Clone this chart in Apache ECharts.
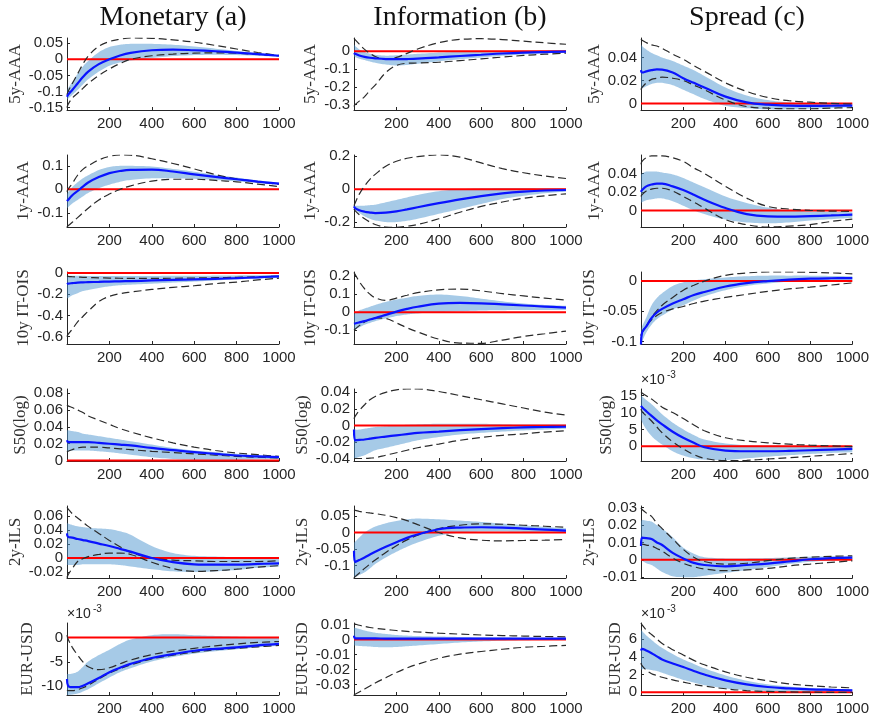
<!DOCTYPE html>
<html><head><meta charset="utf-8">
<script src="https://cdn.jsdelivr.net/npm/echarts@6/dist/echarts.min.js"></script>
<style>html,body{margin:0;padding:0;background:#fff}#c{width:872px;height:724px}</style>
</head><body><div id="c"></div>
<script>
// ---- horizon grid (x values) ----
const horizon = [0,5,25,50,75,100,150,200,250,300,400,500,600,700,800,900,1000];
const xTickValues = [200,400,600,800,1000];
const columnTitles = ['Monetary (a)','Information (b)','Spread (c)'];
const variableNames = ['5y-AAA','1y-AAA','10y IT-OIS','S50(log)','2y-ILS','EUR-USD'];

// ---- Monetary (a) ----
const m1_mean=[-0.116,-0.11,-0.095,-0.075,-0.055,-0.038,-0.015,0.0,0.012,0.02,0.028,0.03,0.028,0.025,0.021,0.016,0.011];
const m1_lo=[-0.125,-0.122,-0.11,-0.095,-0.078,-0.062,-0.038,-0.02,-0.01,-0.004,0.004,0.01,0.013,0.014,0.013,0.011,0.008];
const m1_hi=[-0.1,-0.09,-0.07,-0.045,-0.022,-0.005,0.022,0.038,0.045,0.048,0.048,0.045,0.04,0.033,0.026,0.019,0.013];
const m1_d1=[-0.11,-0.1,-0.075,-0.045,-0.015,0.01,0.04,0.055,0.062,0.066,0.065,0.06,0.053,0.043,0.032,0.021,0.012];
const m1_d2=[-0.15,-0.14,-0.12,-0.105,-0.09,-0.075,-0.05,-0.03,-0.013,0.0,0.011,0.016,0.019,0.02,0.019,0.015,0.011];

const m2_mean=[-0.05,-0.045,-0.025,-0.007,0.012,0.029,0.052,0.069,0.078,0.083,0.084,0.076,0.064,0.053,0.043,0.033,0.024];
const m2_lo=[-0.08,-0.076,-0.06,-0.045,-0.03,-0.015,0.005,0.02,0.032,0.04,0.047,0.047,0.045,0.04,0.034,0.027,0.02];
const m2_hi=[-0.02,-0.012,0.01,0.03,0.047,0.06,0.082,0.095,0.1,0.1,0.097,0.087,0.075,0.062,0.05,0.038,0.028];
const m2_d1=[-0.01,0.0,0.025,0.06,0.085,0.1,0.125,0.14,0.146,0.145,0.13,0.11,0.087,0.063,0.045,0.032,0.022];
const m2_d2=[-0.16,-0.155,-0.14,-0.12,-0.1,-0.08,-0.045,-0.02,0.0,0.015,0.035,0.043,0.043,0.038,0.032,0.022,0.012];

const m3_mean=[-0.105,-0.1,-0.095,-0.09,-0.088,-0.086,-0.083,-0.08,-0.078,-0.076,-0.07,-0.065,-0.06,-0.054,-0.048,-0.04,-0.032];
const m3_lo=[-0.24,-0.235,-0.21,-0.19,-0.17,-0.16,-0.14,-0.125,-0.115,-0.11,-0.1,-0.09,-0.08,-0.07,-0.06,-0.052,-0.045];
const m3_hi=[-0.025,-0.025,-0.025,-0.025,-0.026,-0.027,-0.028,-0.028,-0.028,-0.028,-0.027,-0.026,-0.025,-0.024,-0.022,-0.02,-0.018];
const m3_d1=[-0.03,-0.032,-0.035,-0.038,-0.04,-0.042,-0.045,-0.047,-0.049,-0.05,-0.05,-0.049,-0.047,-0.044,-0.04,-0.035,-0.03];
const m3_d2=[-0.6,-0.58,-0.53,-0.46,-0.41,-0.36,-0.27,-0.22,-0.195,-0.18,-0.155,-0.135,-0.12,-0.1,-0.085,-0.065,-0.048];

const m4_mean=[0.024,0.022,0.022,0.022,0.022,0.022,0.021,0.02,0.019,0.018,0.015,0.0125,0.01,0.008,0.006,0.005,0.004];
const m4_lo=[0.011,0.011,0.012,0.012,0.012,0.012,0.011,0.01,0.0085,0.007,0.004,0.002,0.001,0.001,0.001,0.0015,0.002];
const m4_hi=[0.036,0.036,0.035,0.034,0.032,0.031,0.029,0.027,0.025,0.023,0.019,0.015,0.012,0.01,0.008,0.0065,0.005];
const m4_d1=[0.066,0.065,0.063,0.06,0.057,0.053,0.048,0.043,0.038,0.034,0.027,0.021,0.016,0.012,0.009,0.007,0.005];
const m4_d2=[0.01,0.011,0.013,0.015,0.016,0.016,0.016,0.015,0.014,0.013,0.011,0.0095,0.008,0.0065,0.005,0.004,0.003];

const m5_mean=[0.035,0.03,0.029,0.027,0.0255,0.024,0.0205,0.017,0.013,0.009,0.0,-0.006,-0.009,-0.0095,-0.0095,-0.0085,-0.0076];
const m5_lo=[-0.01,-0.01,-0.01,-0.01,-0.009,-0.009,-0.009,-0.009,-0.01,-0.012,-0.016,-0.019,-0.02,-0.019,-0.017,-0.014,-0.012];
const m5_hi=[0.05,0.049,0.047,0.045,0.044,0.043,0.042,0.041,0.038,0.033,0.017,0.007,0.003,0.002,0.001,0.0005,0.0];
const m5_d1=[0.072,0.07,0.063,0.057,0.051,0.045,0.035,0.025,0.016,0.008,0.0,-0.003,-0.004,-0.005,-0.005,-0.005,-0.004];
const m5_d2=[-0.028,-0.024,-0.015,-0.005,-0.001,0.002,0.005,0.007,0.007,0.005,-0.006,-0.015,-0.019,-0.018,-0.016,-0.013,-0.011];

const m6_mean=[-8.5,-9.9,-10.2,-10.2,-9.9,-9.4,-8.3,-7.1,-6.2,-5.4,-4.2,-3.4,-2.7,-2.3,-2.0,-1.6,-1.3];
const m6_lo=[-11.8,-11.8,-11.7,-11.5,-11.1,-10.6,-9.4,-8.2,-7.1,-6.3,-4.9,-4.0,-3.3,-2.8,-2.4,-2.0,-1.7];
const m6_hi=[-7.5,-7.5,-7.4,-7.0,-6.0,-4.9,-3.6,-2.5,-1.3,-0.4,0.5,0.7,0.5,0.35,0.2,0.1,0.0];
const m6_d1=[0.5,-0.3,-2.0,-3.6,-5.0,-6.0,-6.6,-6.2,-5.4,-4.6,-3.5,-2.8,-2.2,-1.7,-1.3,-1.0,-0.8];
const m6_d2=[-10.8,-10.9,-10.9,-10.7,-10.3,-9.8,-8.5,-7.3,-6.4,-5.6,-4.4,-3.6,-3.0,-2.5,-2.2,-1.9,-1.6];

// ---- Information (b) ----
const i1_mean=[-0.01,-0.015,-0.024,-0.032,-0.037,-0.04,-0.044,-0.045,-0.044,-0.042,-0.035,-0.027,-0.02,-0.013,-0.008,-0.005,-0.003];
const i1_lo=[-0.03,-0.033,-0.042,-0.05,-0.058,-0.065,-0.075,-0.08,-0.077,-0.07,-0.057,-0.045,-0.035,-0.026,-0.018,-0.012,-0.008];
const i1_hi=[0.04,0.03,0.01,-0.005,-0.014,-0.02,-0.025,-0.023,-0.019,-0.015,-0.008,-0.004,-0.002,0.0,0.001,0.002,0.002];
const i1_d1=[0.072,0.065,0.04,0.01,-0.012,-0.03,-0.045,-0.035,-0.012,0.012,0.048,0.066,0.07,0.065,0.056,0.047,0.039];
const i1_d2=[-0.31,-0.3,-0.28,-0.255,-0.22,-0.19,-0.12,-0.08,-0.068,-0.066,-0.062,-0.053,-0.043,-0.033,-0.024,-0.017,-0.011];

const i2_mean=[-0.105,-0.115,-0.128,-0.137,-0.142,-0.145,-0.143,-0.135,-0.123,-0.11,-0.085,-0.062,-0.042,-0.026,-0.015,-0.008,-0.005];
const i2_lo=[-0.115,-0.125,-0.145,-0.165,-0.18,-0.19,-0.2,-0.2,-0.192,-0.18,-0.15,-0.12,-0.09,-0.06,-0.04,-0.025,-0.015];
const i2_hi=[-0.1,-0.1,-0.1,-0.1,-0.097,-0.094,-0.08,-0.065,-0.05,-0.035,-0.012,0.0,0.005,0.007,0.007,0.006,0.005];
const i2_d1=[-0.1,-0.085,-0.03,0.02,0.06,0.09,0.14,0.17,0.188,0.198,0.208,0.195,0.16,0.125,0.1,0.08,0.065];
const i2_d2=[-0.12,-0.13,-0.155,-0.18,-0.2,-0.215,-0.23,-0.232,-0.225,-0.215,-0.18,-0.14,-0.105,-0.078,-0.055,-0.04,-0.028];

const i3_mean=[-0.065,-0.063,-0.057,-0.05,-0.041,-0.033,-0.015,0.003,0.018,0.03,0.047,0.051,0.049,0.043,0.037,0.031,0.025];
const i3_lo=[-0.1,-0.097,-0.085,-0.07,-0.06,-0.05,-0.035,-0.022,-0.013,-0.007,0.0,0.005,0.009,0.011,0.012,0.012,0.012];
const i3_hi=[-0.01,-0.003,0.01,0.02,0.03,0.04,0.057,0.07,0.08,0.09,0.098,0.09,0.075,0.06,0.048,0.04,0.035];
const i3_d1=[0.22,0.21,0.17,0.13,0.1,0.08,0.065,0.078,0.094,0.108,0.124,0.128,0.118,0.103,0.09,0.078,0.067];
const i3_d2=[-0.1,-0.095,-0.075,-0.055,-0.04,-0.032,-0.035,-0.06,-0.087,-0.11,-0.15,-0.172,-0.173,-0.155,-0.135,-0.12,-0.105];

const i4_mean=[-0.005,-0.018,-0.0175,-0.017,-0.016,-0.015,-0.0135,-0.012,-0.0105,-0.009,-0.0075,-0.0058,-0.0045,-0.0033,-0.0024,-0.0019,-0.0016];
const i4_lo=[-0.04,-0.04,-0.038,-0.036,-0.033,-0.03,-0.027,-0.024,-0.021,-0.018,-0.014,-0.011,-0.009,-0.0075,-0.006,-0.005,-0.004];
const i4_hi=[-0.004,-0.005,-0.005,-0.004,-0.003,-0.002,-0.001,0.0,0.0008,0.0013,0.002,0.002,0.002,0.0015,0.001,0.001,0.001];
const i4_d1=[0.008,0.011,0.018,0.025,0.031,0.035,0.04,0.043,0.044,0.044,0.041,0.036,0.031,0.026,0.021,0.016,0.0125];
const i4_d2=[-0.04,-0.04,-0.04,-0.04,-0.0395,-0.039,-0.036,-0.033,-0.03,-0.027,-0.0225,-0.018,-0.0145,-0.012,-0.0102,-0.008,-0.0065];

const i5_mean=[-0.055,-0.089,-0.083,-0.075,-0.066,-0.058,-0.043,-0.029,-0.016,-0.006,0.01,0.015,0.016,0.015,0.012,0.009,0.006];
const i5_lo=[-0.137,-0.135,-0.128,-0.12,-0.108,-0.095,-0.075,-0.058,-0.043,-0.03,-0.01,0.0,0.003,0.003,0.002,0.001,0.0];
const i5_hi=[-0.03,-0.028,-0.015,0.0,0.01,0.018,0.028,0.035,0.04,0.042,0.04,0.036,0.032,0.027,0.022,0.017,0.013];
const i5_d1=[0.068,0.067,0.064,0.061,0.059,0.057,0.052,0.045,0.036,0.024,0.0,-0.016,-0.023,-0.025,-0.024,-0.023,-0.021];
const i5_d2=[-0.137,-0.133,-0.122,-0.108,-0.095,-0.083,-0.06,-0.04,-0.022,-0.008,0.012,0.022,0.026,0.025,0.022,0.019,0.016];

const i6_mean=[0.0025,0.0008,0.0007,0.0007,0.0007,0.0007,0.0006,0.0006,0.0006,0.0006,0.0006,0.0006,0.0006,0.0006,0.0006,0.0006,0.0006];
const i6_lo=[-0.004,-0.004,-0.0043,-0.0045,-0.0047,-0.005,-0.0052,-0.005,-0.0045,-0.004,-0.003,-0.002,-0.0013,-0.0008,-0.0005,-0.0002,0.0];
const i6_hi=[0.008,0.0078,0.007,0.006,0.0052,0.0045,0.0037,0.003,0.0026,0.0023,0.002,0.0017,0.0015,0.0013,0.0012,0.0011,0.001];
const i6_d1=[0.0105,0.0103,0.0095,0.0087,0.008,0.0075,0.0067,0.006,0.0054,0.005,0.0042,0.0036,0.003,0.0026,0.0023,0.002,0.0018];
const i6_d2=[-0.037,-0.0365,-0.035,-0.033,-0.031,-0.029,-0.0255,-0.022,-0.019,-0.0165,-0.0125,-0.0098,-0.008,-0.0065,-0.0052,-0.0045,-0.0039];

// ---- Spread (c) ----
const s1_mean=[0.029,0.027,0.028,0.029,0.0297,0.0295,0.027,0.022,0.018,0.014,0.006,0.001,-0.001,-0.0018,-0.002,-0.0019,-0.0018];
const s1_lo=[0.012,0.013,0.015,0.017,0.018,0.018,0.016,0.012,0.008,0.004,-0.002,-0.004,-0.005,-0.005,-0.0045,-0.004,-0.003];
const s1_hi=[0.052,0.05,0.047,0.044,0.042,0.04,0.037,0.033,0.029,0.024,0.014,0.007,0.003,0.001,0.0,-0.0005,-0.0008];
const s1_d1=[0.056,0.055,0.053,0.051,0.05,0.048,0.043,0.0385,0.033,0.028,0.018,0.0106,0.0053,0.0025,0.0012,0.0002,-0.0006];
const s1_d2=[0.012,0.014,0.018,0.021,0.022,0.023,0.022,0.02,0.016,0.012,0.003,-0.0026,-0.004,-0.0045,-0.0045,-0.004,-0.0035];

const s2_mean=[0.02,0.022,0.026,0.028,0.029,0.029,0.026,0.022,0.017,0.0115,0.0025,-0.004,-0.0065,-0.0068,-0.0062,-0.0055,-0.0047];
const s2_lo=[0.008,0.009,0.011,0.012,0.013,0.013,0.01,0.005,0.0,-0.004,-0.01,-0.013,-0.014,-0.013,-0.011,-0.0095,-0.008];
const s2_hi=[0.038,0.04,0.042,0.042,0.042,0.041,0.039,0.035,0.03,0.025,0.015,0.008,0.003,0.0,-0.001,-0.0015,-0.002];
const s2_d1=[0.05,0.053,0.057,0.059,0.059,0.059,0.057,0.053,0.046,0.04,0.026,0.0133,0.0043,0.0015,0.0,-0.0008,-0.001];
const s2_d2=[0.015,0.017,0.021,0.023,0.024,0.024,0.021,0.015,0.009,0.0025,-0.01,-0.0155,-0.018,-0.017,-0.0155,-0.012,-0.0094];

const s3_mean=[-0.105,-0.085,-0.075,-0.061,-0.052,-0.046,-0.037,-0.03,-0.023,-0.018,-0.009,-0.0034,0.0,0.0025,0.004,0.0047,0.005];
const s3_lo=[-0.104,-0.1,-0.085,-0.072,-0.063,-0.057,-0.047,-0.04,-0.032,-0.025,-0.015,-0.008,-0.004,-0.001,0.0,0.0008,0.001];
const s3_hi=[-0.085,-0.075,-0.06,-0.04,-0.028,-0.02,-0.008,-0.002,0.001,0.003,0.006,0.008,0.009,0.009,0.009,0.0085,0.008];
const s3_d1=[-0.09,-0.085,-0.075,-0.06,-0.049,-0.04,-0.027,-0.015,-0.007,0.0,0.0095,0.0134,0.015,0.015,0.0145,0.0135,0.012];
const s3_d2=[-0.09,-0.085,-0.074,-0.064,-0.057,-0.052,-0.046,-0.042,-0.037,-0.033,-0.027,-0.022,-0.017,-0.013,-0.01,-0.0065,-0.003];

const s4_mean=[12,11.6,10.4,9.0,7.7,6.5,4.3,2.5,1.0,-0.3,-1.3,-1.5,-1.5,-1.4,-1.2,-1.0,-0.8];
const s4_lo=[8,7.2,5,3,1.6,0.5,-1.5,-2.8,-3.6,-4.0,-4.1,-3.6,-3.1,-2.7,-2.3,-2.0,-1.8];
const s4_hi=[15,14.8,13.7,12.5,11,9.5,7,5,3.3,2.0,0.8,0.3,0.2,0.15,0.1,0.05,0.0];
const s4_d1=[16,15.8,15,14,12.8,11.6,10,8.2,6.3,4.6,2.5,1.6,1.0,0.6,0.3,0.1,-0.1];
const s4_d2=[11,10.3,9,7.5,5.7,4.0,1.3,-0.8,-2.5,-3.6,-4.3,-4.2,-3.8,-3.4,-3.0,-2.6,-2.2];

const s5_mean=[0.008,0.0128,0.0125,0.012,0.01,0.0085,0.004,0.0008,-0.0018,-0.003,-0.0038,-0.003,-0.0022,-0.001,0.0003,0.0009,0.0012];
const s5_lo=[0.0,-0.0005,-0.002,-0.003,-0.005,-0.007,-0.0095,-0.01,-0.01,-0.0092,-0.0075,-0.006,-0.0042,-0.0025,-0.0012,-0.0004,0.0];
const s5_hi=[0.022,0.023,0.0225,0.022,0.02,0.018,0.013,0.007,0.0035,0.0015,0.0008,0.0008,0.001,0.0014,0.0018,0.002,0.002];
const s5_d1=[0.03,0.029,0.027,0.025,0.021,0.018,0.012,0.006,0.0015,-0.001,-0.0025,-0.002,-0.0005,0.0008,0.0015,0.002,0.0023];
const s5_d2=[0.009,0.009,0.0085,0.008,0.0065,0.005,0.001,-0.002,-0.004,-0.0053,-0.0063,-0.0058,-0.005,-0.0035,-0.0025,-0.0015,-0.0006];

const s6_mean=[4.7,4.9,4.7,4.4,4.05,3.7,3.25,2.85,2.4,2.0,1.35,0.9,0.6,0.45,0.34,0.28,0.23];
const s6_lo=[2.5,2.6,2.6,2.5,2.4,2.2,1.8,1.4,1.1,0.8,0.45,0.25,0.15,0.1,0.08,0.07,0.06];
const s6_hi=[7,6.9,6.4,5.9,5.4,5.0,4.3,3.7,3.2,2.7,1.9,1.3,0.9,0.65,0.5,0.4,0.35];
const s6_d1=[7.8,7.6,7.0,6.5,6.0,5.5,4.8,4.2,3.6,3.1,2.3,1.7,1.3,0.95,0.75,0.6,0.5];
const s6_d2=[3.3,3.0,2.5,2.1,1.9,1.7,1.4,1.15,0.9,0.7,0.4,0.2,0.1,0.05,0.02,0.0,0.0];

// ---- axis ranges and tick labels (per column, rows top to bottom) ----
const monYMin=[-0.157,-0.16,-0.67,-0.0005,-0.0285,-11.8];
const monYMax=[0.066,0.146,0.01,0.085,0.074,3.0];
const monYTicks=[[-0.15,-0.1,-0.05,0,0.05],[-0.1,0,0.1],[-0.6,-0.4,-0.2,0],[0,0.02,0.04,0.06,0.08],[-0.02,0,0.02,0.04,0.06],[-10,-5,0]];
const infYMin=[-0.33,-0.23,-0.177,-0.043,-0.137,-0.037];
const infYMax=[0.074,0.208,0.223,0.044,0.08,0.011];
const infYTicks=[[-0.3,-0.2,-0.1,0],[-0.2,0,0.2],[-0.1,0,0.1,0.2],[-0.04,-0.02,0,0.02,0.04],[-0.1,-0.05,0,0.05],[-0.03,-0.02,-0.01,0,0.01]];
const sprYMin=[-0.0056,-0.018,-0.104,-4.4,-0.0105,-0.3];
const sprYMax=[0.057,0.06,0.015,17,0.031,7.8];
const sprYTicks=[[0,0.02,0.04],[0,0.02,0.04],[-0.1,-0.05,0],[0,5,10,15],[-0.01,0,0.01,0.02,0.03],[0,2,4,6]];
// panels whose values are shown in units of 10^-3: [row, col]
const exponentPanels=[[5,0],[3,2],[5,2]];

// ---- assemble ----
const colData=[
  [[m1_mean,m1_lo,m1_hi,m1_d1,m1_d2],[m2_mean,m2_lo,m2_hi,m2_d1,m2_d2],[m3_mean,m3_lo,m3_hi,m3_d1,m3_d2],[m4_mean,m4_lo,m4_hi,m4_d1,m4_d2],[m5_mean,m5_lo,m5_hi,m5_d1,m5_d2],[m6_mean,m6_lo,m6_hi,m6_d1,m6_d2]],
  [[i1_mean,i1_lo,i1_hi,i1_d1,i1_d2],[i2_mean,i2_lo,i2_hi,i2_d1,i2_d2],[i3_mean,i3_lo,i3_hi,i3_d1,i3_d2],[i4_mean,i4_lo,i4_hi,i4_d1,i4_d2],[i5_mean,i5_lo,i5_hi,i5_d1,i5_d2],[i6_mean,i6_lo,i6_hi,i6_d1,i6_d2]],
  [[s1_mean,s1_lo,s1_hi,s1_d1,s1_d2],[s2_mean,s2_lo,s2_hi,s2_d1,s2_d2],[s3_mean,s3_lo,s3_hi,s3_d1,s3_d2],[s4_mean,s4_lo,s4_hi,s4_d1,s4_d2],[s5_mean,s5_lo,s5_hi,s5_d1,s5_d2],[s6_mean,s6_lo,s6_hi,s6_d1,s6_d2]]
];
const colYMin=[monYMin,infYMin,sprYMin], colYMax=[monYMax,infYMax,sprYMax], colYTicks=[monYTicks,infYTicks,sprYTicks];

const gridLeft=[67,354,641], gridWidth=212, gridTop0=38, rowStep=117, gridHeight=72;
const axisColor='#262626';
const tickFont='"Liberation Sans", Arial, Helvetica, sans-serif';
const serifFont='"Liberation Serif", "Times New Roman", serif';
const tickSize=15, labelMargin=4;
const fmt=v=>String(+Number(v).toPrecision(6));
const ctx=document.createElement('canvas').getContext('2d');
ctx.font=tickSize+'px "Liberation Sans"';

function smoothPts(pts,n){
  const out=[];
  for(let i=0;i<pts.length-1;i++){
    const p0=pts[Math.max(i-1,0)],p1=pts[i],p2=pts[i+1],p3=pts[Math.min(i+2,pts.length-1)];
    const c1=[p1[0]+(p2[0]-p0[0])/6,p1[1]+(p2[1]-p0[1])/6];
    const c2=[p2[0]-(p3[0]-p1[0])/6,p2[1]-(p3[1]-p1[1])/6];
    for(let s=0;s<n;s++){const t=s/n,u=1-t;
      out.push([u*u*u*p1[0]+3*u*u*t*c1[0]+3*u*t*t*c2[0]+t*t*t*p2[0],
                u*u*u*p1[1]+3*u*u*t*c1[1]+3*u*t*t*c2[1]+t*t*t*p2[1]]);}
  }
  out.push(pts[pts.length-1]);
  return out;
}

const grids=[],xAxes=[],yAxes=[],series=[],graphics=[],yLabelJobs=[];
for(let c=0;c<3;c++){
  graphics.push({type:'text',x:gridLeft[c]+gridWidth/2,y:18,style:{text:columnTitles[c],font:'28px '+serifFont,fill:'#111',textAlign:'center',textVerticalAlign:'middle',align:'center',verticalAlign:'middle'}});
  for(let r=0;r<6;r++){
    const k=grids.length;
    const top=gridTop0+r*rowStep;
    const [mean,lo,hi,d1,d2]=colData[c][r];
    const ticks=colYTicks[c][r];
    grids.push({left:gridLeft[c],top:top,width:gridWidth,height:gridHeight});
    xAxes.push({gridIndex:k,type:'value',min:0,max:1000,interval:200,
      axisLine:{show:true,onZero:false,lineStyle:{color:axisColor,width:1}},
      axisTick:{show:true,inside:true,length:3,lineStyle:{color:axisColor}},
      axisLabel:{show:true,customValues:xTickValues,formatter:v=>String(v),fontFamily:tickFont,fontSize:tickSize,color:axisColor,margin:6,showMinLabel:true,showMaxLabel:true},
      splitLine:{show:false}});
    const maxW=Math.max(...ticks.map(t=>ctx.measureText(fmt(t)).width));
    yAxes.push({gridIndex:k,type:'value',min:colYMin[c][r],max:colYMax[c][r],
      axisLine:{show:true,onZero:false,lineStyle:{color:axisColor,width:1}},
      axisTick:{show:true,inside:true,length:3,customValues:ticks,lineStyle:{color:axisColor}},
      axisLabel:{show:false},
      splitLine:{show:false},
      name:variableNames[r],nameLocation:'middle',nameGap:maxW+labelMargin+5,
      nameTextStyle:{fontFamily:serifFont,fontSize:17,color:'#333'}});
    yLabelJobs.push({k:k,ticks:ticks,x:gridLeft[c]-labelMargin});
    // zero reference line
    series.push({type:'line',xAxisIndex:k,yAxisIndex:k,data:horizon.map(x=>[x,0]),symbol:'none',silent:true,
      lineStyle:{color:'#ff0000',width:2}});
    // confidence band
    series.push({type:'custom',xAxisIndex:k,yAxisIndex:k,data:[[horizon[0],lo[0]]],silent:true,
      renderItem:(params,api)=>{
        const up=smoothPts(horizon.map((x,j)=>api.coord([x,hi[j]])),8);
        const dn=smoothPts(horizon.map((x,j)=>api.coord([x,lo[j]])),8).reverse();
        return {type:'polygon',shape:{points:up.concat(dn)},style:{fill:'rgba(77,150,208,0.5)',stroke:null}};
      }});
    // dashed bounds
    [d1,d2].forEach(d=>series.push({type:'line',xAxisIndex:k,yAxisIndex:k,data:horizon.map((x,j)=>[x,d[j]]),
      symbol:'none',smooth:0.4,silent:true,lineStyle:{color:'#2a2a2a',width:1.2,type:[8,4]}}));
    // mean response
    series.push({type:'line',xAxisIndex:k,yAxisIndex:k,data:horizon.map((x,j)=>[x,mean[j]]),
      symbol:'none',smooth:0.4,silent:true,lineStyle:{color:'#0a14ff',width:2.2}});
  }
}
exponentPanels.forEach(([r,c])=>{
  const top=gridTop0+r*rowStep, left=gridLeft[c];
  graphics.push({type:'text',x:left,y:top-2,style:{text:'\u00d710',font:'14px '+tickFont,fill:axisColor,textAlign:'left',textVerticalAlign:'bottom',align:'left',verticalAlign:'bottom'}});
  graphics.push({type:'text',x:left+26,y:top-9,style:{text:'-3',font:'10px '+tickFont,fill:axisColor,textAlign:'left',textVerticalAlign:'bottom',align:'left',verticalAlign:'bottom'}});
});

const chart=echarts.init(document.getElementById('c'),null,{renderer:'canvas'});
chart.setOption({animation:false,backgroundColor:'#fff',grid:grids,xAxis:xAxes,yAxis:yAxes,series:series});
// y tick labels positioned through the axis scale
yLabelJobs.forEach(job=>{
  job.ticks.forEach(t=>{
    const py=chart.convertToPixel({yAxisIndex:job.k},t);
    graphics.push({type:'text',x:job.x,y:py,silent:true,style:{text:fmt(t),font:tickSize+'px '+tickFont,fill:axisColor,textAlign:'right',textVerticalAlign:'middle',align:'right',verticalAlign:'middle'}});
  });
});
chart.setOption({graphic:graphics});
</script></body></html>
